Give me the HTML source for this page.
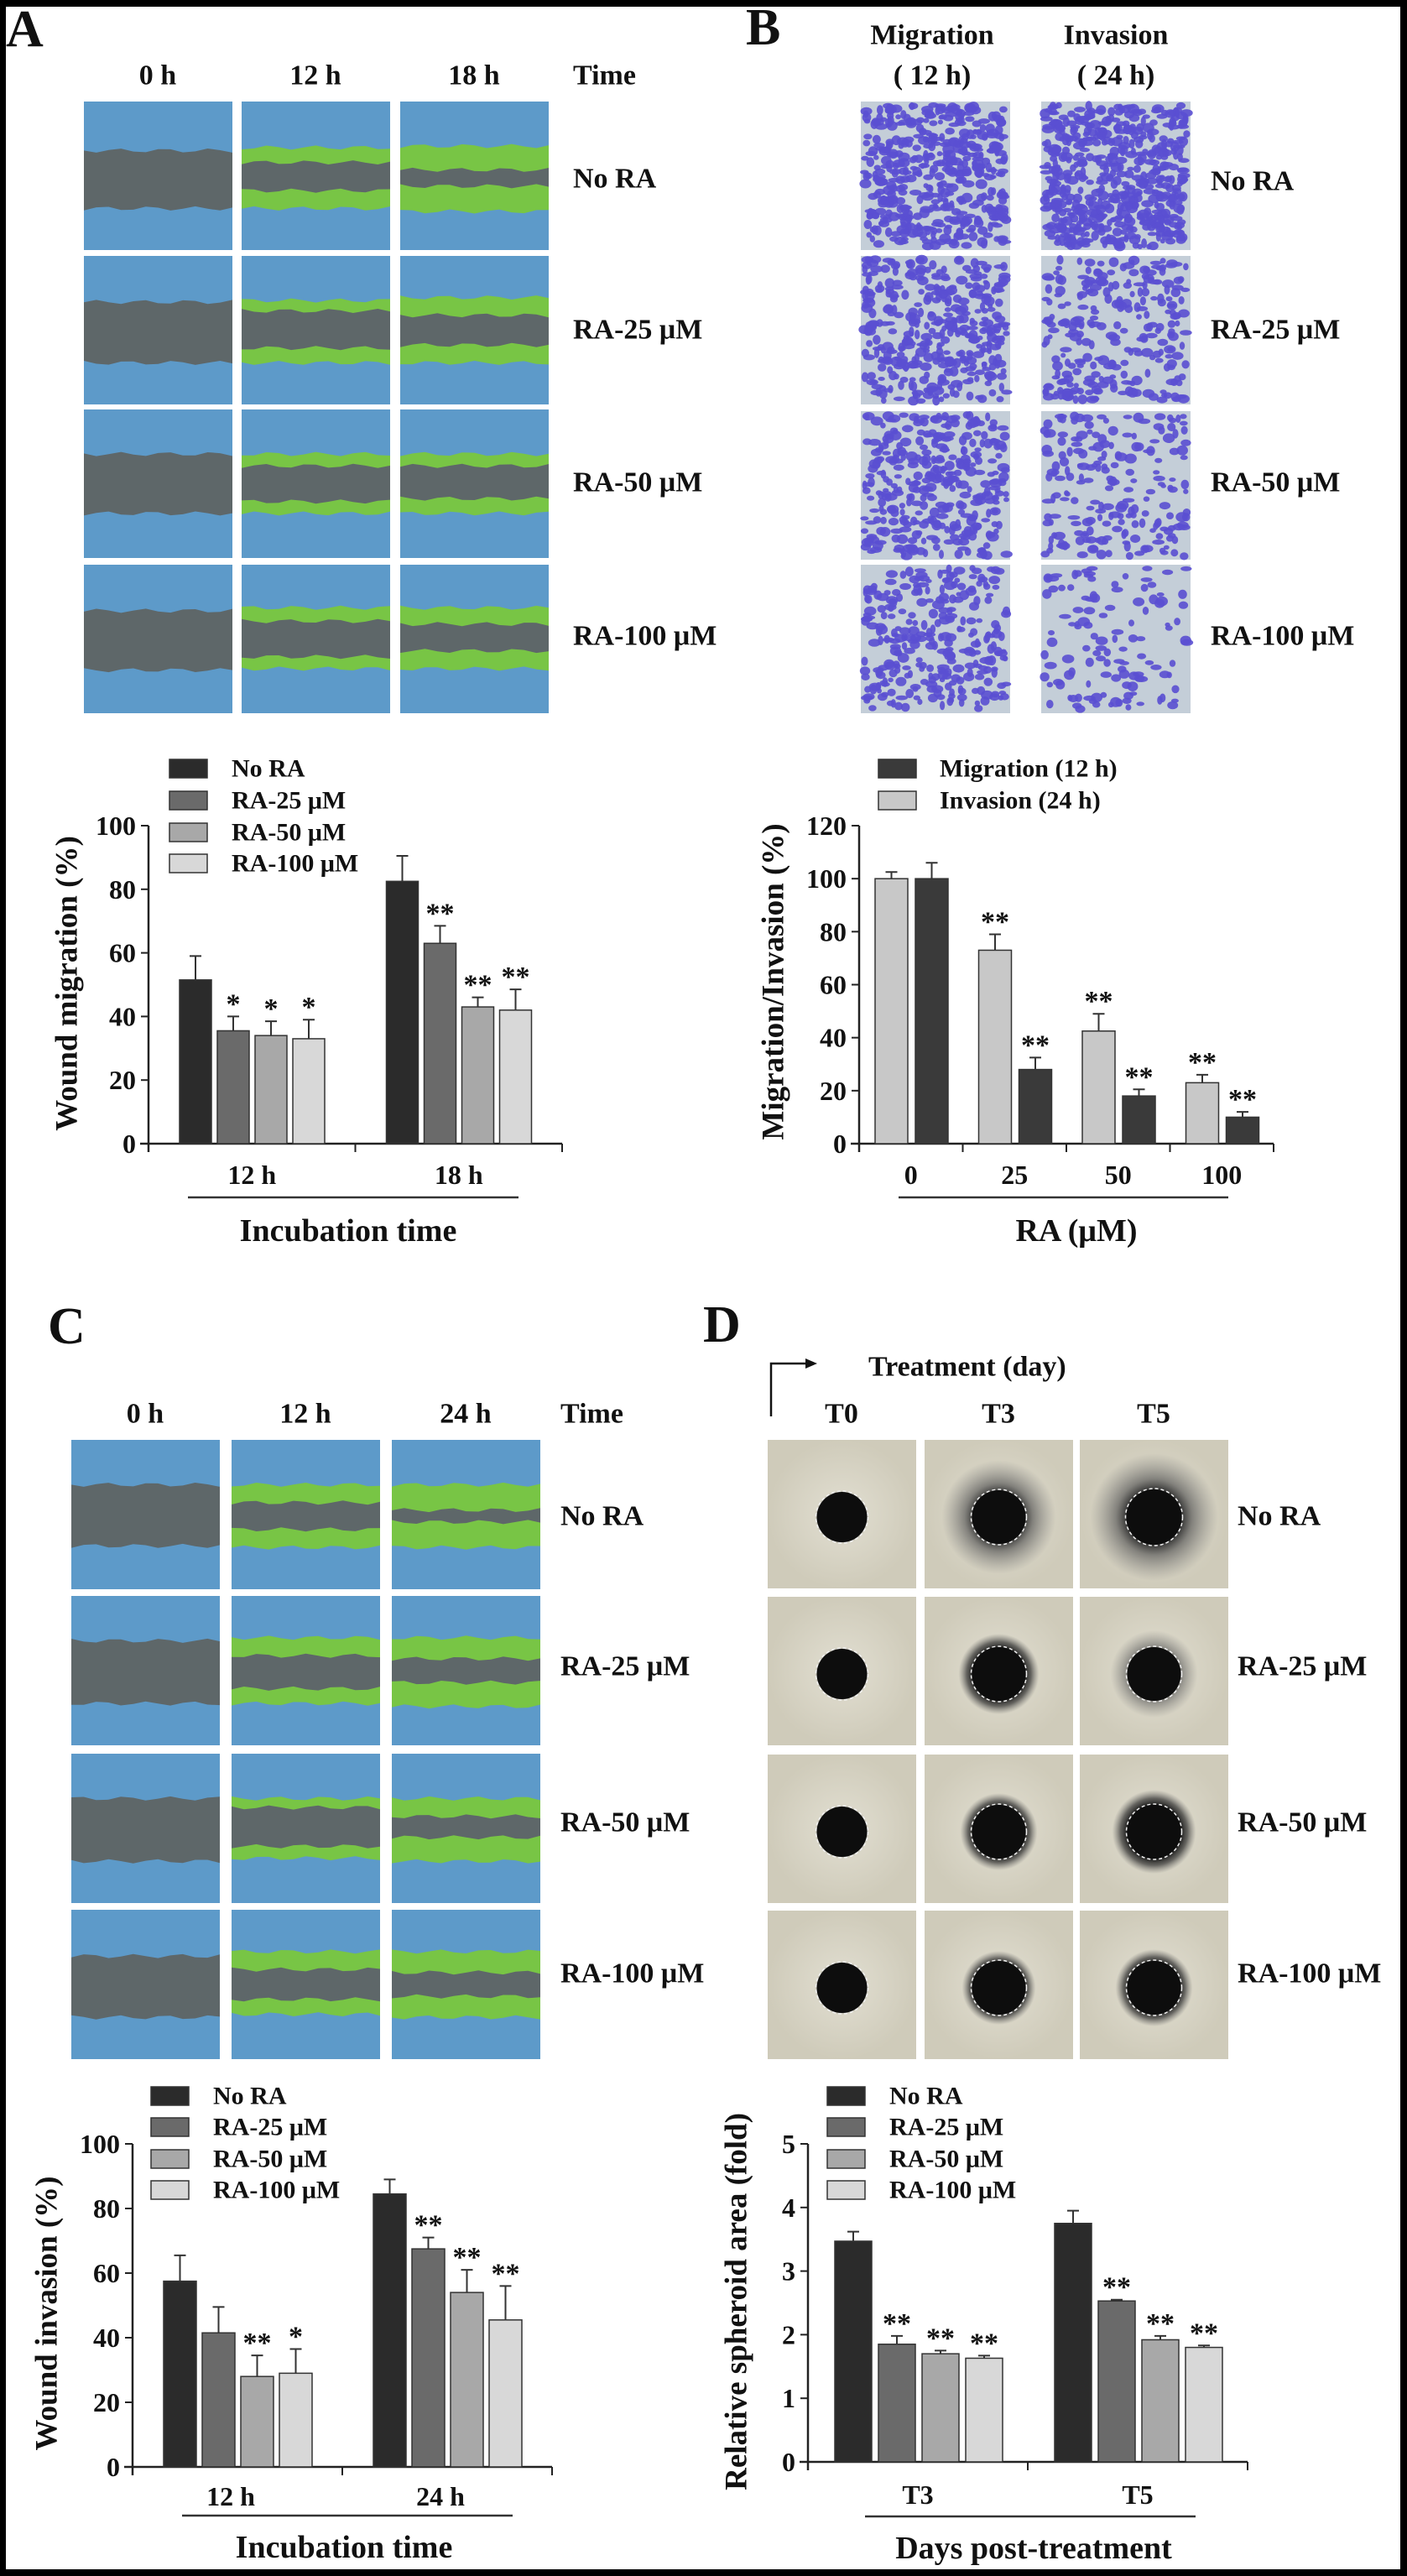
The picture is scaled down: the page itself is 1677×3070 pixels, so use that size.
<!DOCTYPE html>
<html><head><meta charset="utf-8">
<style>
html,body{margin:0;padding:0;background:#fff;}
svg{display:block;}
text{font-family:"Liberation Serif",serif;font-weight:bold;fill:#111;}
</style></head>
<body>
<svg id="fig" xmlns="http://www.w3.org/2000/svg" width="1677" height="3070" viewBox="0 0 1677 3070">
<defs>
<radialGradient id="haloBig"><stop offset="0.4" stop-color="#222"/><stop offset="0.6" stop-color="#555" stop-opacity="0.65"/><stop offset="1" stop-color="#777" stop-opacity="0"/></radialGradient>
<radialGradient id="haloSmall"><stop offset="0.62" stop-color="#111"/><stop offset="0.8" stop-color="#333" stop-opacity="0.7"/><stop offset="1" stop-color="#666" stop-opacity="0"/></radialGradient>
<radialGradient id="bgBeige"><stop offset="0" stop-color="#e2dfd2"/><stop offset="1" stop-color="#cfcbba"/></radialGradient>
</defs>
<rect x="0" y="0" width="1677" height="3070" fill="#000"/>
<rect x="7" y="8" width="1662" height="3054" fill="#fff"/>
<g id="root"></g>
</svg>
<script>
// ---------- Chart data ----------
// Panel A: wound migration
const aGroups = ['12 h', '18 h'];
const aNoRA = [51.5, 82.5];
const aRA25 = [35.5, 63];
const aRA50 = [34, 43];
const aRA100 = [33, 42];
const aNoRAErr = [7.5, 8];
const aRA25Err = [4.5, 5.5];
const aRA50Err = [4.5, 3];
const aRA100Err = [6, 6.5];
const aStars = [['', '*', '*', '*'], ['', '**', '**', '**']];
const aTicks = [0, 20, 40, 60, 80, 100];
// Panel B: migration/invasion
const bGroups = ['0', '25', '50', '100'];
const bInvasion = [100, 73, 42.5, 23];
const bMigration = [100, 28, 18, 10];
const bInvasionErr = [2.5, 6, 6.5, 3];
const bMigrationErr = [6, 4.5, 2.5, 2];
const bStarsInv = ['', '**', '**', '**'];
const bStarsMig = ['', '**', '**', '**'];
const bTicks = [0, 20, 40, 60, 80, 100, 120];
// Panel C: wound invasion
const cGroups = ['12 h', '24 h'];
const cNoRA = [57.5, 84.5];
const cRA25 = [41.5, 67.5];
const cRA50 = [28, 54];
const cRA100 = [29, 45.5];
const cNoRAErr = [8, 4.5];
const cRA25Err = [8, 3.5];
const cRA50Err = [6.5, 7];
const cRA100Err = [7.5, 10.5];
const cStars = [['', '', '**', '*'], ['', '**', '**', '**']];
const cTicks = [0, 20, 40, 60, 80, 100];
// Panel D: spheroid area
const dGroups = ['T3', 'T5'];
const dNoRA = [3.47, 3.75];
const dRA25 = [1.85, 2.53];
const dRA50 = [1.7, 1.92];
const dRA100 = [1.63, 1.8];
const dNoRAErr = [0.15, 0.2];
const dRA25Err = [0.13, 0.02];
const dRA50Err = [0.05, 0.06];
const dRA100Err = [0.04, 0.03];
const dStars = [['', '**', '**', '**'], ['', '**', '**', '**']];
const dTicks = [0, 1, 2, 3, 4, 5];

const seriesNames = ['No RA', 'RA-25 \u03bcM', 'RA-50 \u03bcM', 'RA-100 \u03bcM'];
const seriesColors = ['#2b2b2b', '#6a6a6a', '#a8a8a8', '#d8d8d8'];

const NS = 'http://www.w3.org/2000/svg';
const root = document.getElementById('root');
function el(tag, attrs, parent) {
  const e = document.createElementNS(NS, tag);
  for (const k in attrs) e.setAttribute(k, attrs[k]);
  (parent || root).appendChild(e);
  return e;
}
function txt(str, x, y, size, anchor, parent, name) {
  const t = el('text', {x: x, y: y, 'font-size': size, 'text-anchor': anchor || 'start', 'dominant-baseline': 'central'}, parent);
  t.textContent = str;
  
  
  return t;
}

// ---------- Bar chart ----------
function barChart(cfg) {
  const g = el('g', {});
  
  
  const yScale = v => cfg.y0 - (v / cfg.yMax) * (cfg.y0 - cfg.yTop);
  const nG = cfg.groups.length;
  const gw = (cfg.x1 - cfg.x0) / nG;
  const xBar = (gi, si) => cfg.x0 + gi * gw + cfg.offset + si * cfg.step;
  const ya = el('line', {x1: cfg.x0, y1: cfg.yTop, x2: cfg.x0, y2: cfg.y0 + 10, stroke: '#222', 'stroke-width': 2.5}, g);
  
  
  const xa = el('line', {x1: cfg.x0 - 10, y1: cfg.y0, x2: cfg.x1, y2: cfg.y0, stroke: '#222', 'stroke-width': 2.5}, g);
  
  
  for (let i = 1; i <= nG; i++) {
    const tx = cfg.x0 + i * gw;
    const tk = el('line', {x1: tx, y1: cfg.y0, x2: tx, y2: cfg.y0 + 10, stroke: '#222', 'stroke-width': 2}, g);
    
    
  }
  cfg.ticks.forEach(v => {
    const y = yScale(v);
    const tk = el('line', {x1: cfg.x0 - 9, y1: y, x2: cfg.x0, y2: y, stroke: '#222', 'stroke-width': 2}, g);
    
    
    txt(String(v), cfg.x0 - 15, y, 32, 'end', g, 'y-tick-label');
  });
  cfg.series.forEach((ser, si) => {
    ser.values.forEach((v, gi) => {
      const x = xBar(gi, si);
      const yTop = yScale(v);
      const r = el('rect', {x: x, y: yTop, width: cfg.bw, height: cfg.y0 - yTop, fill: ser.color, stroke: '#333', 'stroke-width': 1.5}, g);
      
      
      const eTop = yScale(v + ser.errs[gi]);
      const cx = x + cfg.bw / 2;
      const eb = el('path', {d: 'M' + cx + ' ' + yTop + 'V' + eTop + 'M' + (cx - 7) + ' ' + eTop + 'H' + (cx + 7), stroke: '#333', 'stroke-width': 2, fill: 'none'}, g);
      
      
      const s = ser.stars[gi];
      if (s) {
        const st = el('text', {x: cx, y: eTop - 4, 'font-size': 34, 'text-anchor': 'middle', fill: '#333'}, g);
        st.textContent = s;
        
        
      }
    });
  });
  cfg.groups.forEach((lab, gi) => {
    txt(lab, cfg.x0 + gi * gw + gw / 2 + (cfg.labShift || 0), cfg.labY, 32, 'middle', g, 'x-tick-label');
  });
  const ul = el('line', {x1: cfg.ulX0, y1: cfg.ulY, x2: cfg.ulX1, y2: cfg.ulY, stroke: '#333', 'stroke-width': 2.5}, g);
  
  
  txt(cfg.xTitle, cfg.xTitleX, cfg.xTitleY, 38, 'middle', g, 'x-axis-title');
  const yt = txt(cfg.yTitle, 0, 0, 37, 'middle', g, 'y-axis-title');
  yt.setAttribute('transform', 'translate(' + cfg.yTitleX + ',' + cfg.yTitleY + ') rotate(-90)');
  cfg.legend.forEach((lg, i) => {
    const ly = cfg.legY[i];
    const lr = el('rect', {x: cfg.legX, y: ly - 11, width: 45, height: 22, fill: lg.color, stroke: '#333', 'stroke-width': 1.5}, g);
    
    
    txt(lg.name, cfg.legTextX, ly, 30, 'start', g, 'legend-entry');
  });
}

function fourSeries(vals, errs, stars) {
  const keys = ['no-ra', 'ra25', 'ra50', 'ra100'];
  return vals.map((v, i) => ({key: keys[i], values: v, errs: errs[i], color: seriesColors[i], stars: stars.map(g => g[i])}));
}
const legend4 = seriesNames.map((n, i) => ({name: n, color: seriesColors[i]}));

barChart({name: 'chart-a-wound-migration', groups: aGroups,
  series: fourSeries([aNoRA, aRA25, aRA50, aRA100], [aNoRAErr, aRA25Err, aRA50Err, aRA100Err], aStars),
  x0: 177, x1: 670, y0: 1363, yTop: 984, yMax: 100, ticks: aTicks, offset: 37, step: 45, bw: 38,
  labY: 1400, ulX0: 224, ulX1: 618, ulY: 1427, xTitle: 'Incubation time', xTitleX: 415, xTitleY: 1467,
  yTitle: 'Wound migration (%)', yTitleX: 80, yTitleY: 1172,
  legend: legend4, legX: 202, legTextX: 276, legY: [916, 954, 992, 1029]});

barChart({name: 'chart-b-migration-invasion', groups: bGroups,
  series: [
    {key: 'invasion', values: bInvasion, errs: bInvasionErr, color: '#c8c8c8', stars: bStarsInv},
    {key: 'migration', values: bMigration, errs: bMigrationErr, color: '#3a3a3a', stars: bStarsMig}],
  x0: 1024, x1: 1518, y0: 1363, yTop: 984, yMax: 120, ticks: bTicks, offset: 19, step: 48, bw: 39,
  labY: 1400, ulX0: 1071, ulX1: 1464, ulY: 1427, xTitle: 'RA (\u03bcM)', xTitleX: 1283, xTitleY: 1467,
  yTitle: 'Migration/Invasion (%)', yTitleX: 922, yTitleY: 1170,
  legend: [{name: 'Migration (12 h)', color: '#3a3a3a'}, {name: 'Invasion (24 h)', color: '#c8c8c8'}],
  legX: 1047, legTextX: 1120, legY: [916, 954]});

barChart({name: 'chart-c-wound-invasion', groups: cGroups,
  series: fourSeries([cNoRA, cRA25, cRA50, cRA100], [cNoRAErr, cRA25Err, cRA50Err, cRA100Err], cStars),
  x0: 158, x1: 658, y0: 2940, yTop: 2555, yMax: 100, ticks: cTicks, offset: 37, step: 46, bw: 39,
  labY: 2975, labShift: -8, ulX0: 217, ulX1: 611, ulY: 2998, xTitle: 'Incubation time', xTitleX: 410, xTitleY: 3036,
  yTitle: 'Wound invasion (%)', yTitleX: 56, yTitleY: 2757,
  legend: legend4, legX: 180, legTextX: 254, legY: [2498, 2535, 2573, 2610]});

barChart({name: 'chart-d-spheroid-area', groups: dGroups,
  series: fourSeries([dNoRA, dRA25, dRA50, dRA100], [dNoRAErr, dRA25Err, dRA50Err, dRA100Err], dStars),
  x0: 963, x1: 1487, y0: 2934, yTop: 2555, yMax: 5, ticks: dTicks, offset: 32, step: 52, bw: 44,
  labY: 2973, labShift: 0, ulX0: 1031, ulX1: 1425, ulY: 2999, xTitle: 'Days post-treatment', xTitleX: 1232, xTitleY: 3037,
  yTitle: 'Relative spheroid area (fold)', yTitleX: 878, yTitleY: 2743,
  legend: legend4, legX: 986, legTextX: 1060, legY: [2498, 2535, 2573, 2610]});

// ---------- Micrograph panels (illustrative) ----------
function wavy(x, w, yFrac, h, y0, phase, amp) {
  const pts = [];
  for (let i = 0; i <= 12; i++) {
    const px = x + (w * i) / 12;
    const py = y0 + yFrac * h + Math.sin(i * 1.7 + phase) * amp;
    pts.push(px.toFixed(1) + ',' + py.toFixed(1));
  }
  return pts;
}
function band(g, x, y, w, h, f0, f1, color, ph) {
  const top = wavy(x, w, f0, h, y, ph, 2.5);
  const bot = wavy(x, w, f1, h, y, ph + 2, 2.5).reverse();
  const p = el('polygon', {points: top.concat(bot).join(' '), fill: color}, g);
  
  
}
function woundImg(x, y, w, h, spec, ph) {
  const g = el('g', {});
  
  
  el('rect', {x: x, y: y, width: w, height: h, fill: '#5d9ac9'}, g);
  if (spec.length === 2) {
    band(g, x, y, w, h, spec[0], spec[1], '#5e6769', ph);
  } else {
    band(g, x, y, w, h, spec[0], spec[3], '#78c545', ph);
    band(g, x, y, w, h, spec[1], spec[2], '#5e6769', ph + 1);
  }
}
const aCols = [100, 288, 477], aRows = [121, 305, 488, 673];
const aSpec = [
  [[.33, .72], [.31, .41, .60, .72], [.30, .46, .57, .74]],
  [[.31, .72], [.30, .37, .62, .72], [.28, .40, .60, .72]],
  [[.30, .70], [.30, .38, .62, .70], [.30, .38, .60, .70]],
  [[.31, .71], [.29, .38, .62, .70], [.29, .40, .58, .70]]];
aRows.forEach((ry, r) => aCols.forEach((cx, c) => woundImg(cx, ry, 177, 177, aSpec[r][c], r * 3 + c)));
const cCols = [85, 276, 467], cRows = [1716, 1902, 2090, 2276];
const cSpec = [
  [[.30, .71], [.30, .42, .60, .72], [.30, .47, .55, .72]],
  [[.30, .72], [.28, .40, .62, .72], [.28, .42, .58, .74]],
  [[.30, .72], [.30, .36, .62, .70], [.30, .42, .56, .72]],
  [[.31, .72], [.28, .40, .60, .70], [.28, .42, .58, .72]]];
cRows.forEach((ry, r) => cCols.forEach((cx, c) => woundImg(cx, ry, 177, 178, cSpec[r][c], r * 5 + c)));

let seed = 12345;
function rnd() { seed = (seed * 1103515245 + 12345) % 2147483648; return seed / 2147483648; }
function transwell(x, y, w, h, dens) {
  const g = el('g', {});
  
  
  el('rect', {x: x, y: y, width: w, height: h, fill: '#c4ced8'}, g);
  const n = Math.round(dens * 480);
  for (let i = 0; i < n; i++) {
    const cx = x + 4 + rnd() * (w - 8), cy = y + 4 + rnd() * (h - 8);
    el('ellipse', {cx: cx.toFixed(1), cy: cy.toFixed(1), rx: (3 + rnd() * 4.5).toFixed(1), ry: (2.5 + rnd() * 3.5).toFixed(1), fill: '#5a4fd2', opacity: 0.9}, g);
  }
}
const bCols = [1026, 1241], bRows = [121, 305, 490, 673];
const bDens = [[1.0, 1.15], [0.8, 0.55], [0.72, 0.42], [0.6, 0.25]];
bRows.forEach((ry, r) => bCols.forEach((cx, c) => transwell(cx, ry, 178, 177, bDens[r][c])));

function spheroid(x, y, w, h, core, halo) {
  const g = el('g', {});
  
  
  el('rect', {x: x, y: y, width: w, height: h, fill: 'url(#bgBeige)'}, g);
  const cx = x + w * 0.5, cy = y + h * 0.52;
  if (halo > core) el('circle', {cx: cx, cy: cy, r: halo, fill: halo > core * 1.6 ? 'url(#haloBig)' : 'url(#haloSmall)'}, g);
  el('circle', {cx: cx, cy: cy, r: core, fill: '#0d0d0d'}, g);
  el('circle', {cx: cx, cy: cy, r: core + 1, fill: 'none', stroke: '#f2f2f2', 'stroke-width': 1.5, 'stroke-dasharray': '4 3'}, g);
}
const dCols = [915, 1102, 1287], dRows = [1716, 1903, 2091, 2277];
const dCore = [[30, 32, 33], [30, 32, 32], [30, 32, 32], [30, 32, 32]];
const dHalo = [[32, 68, 76], [32, 48, 52], [32, 46, 50], [32, 44, 46]];
dRows.forEach((ry, r) => dCols.forEach((cx, c) => spheroid(cx, ry, 177, 177, dCore[r][c], dHalo[r][c])));

// ---------- Panel labels and headers ----------
const L = el('g', {});


function big(s, x, y, name) {
  const t = el('text', {x: x, y: y, 'font-size': 62}, L);
  t.textContent = s;
  
  
}
big('A', 7, 55, 'panel-letter-a');
big('B', 889, 53, 'panel-letter-b');
big('C', 57, 1601, 'panel-letter-c');
big('D', 838, 1599, 'panel-letter-d');

['0 h', '12 h', '18 h'].forEach((s, i) => txt(s, aCols[i] + 88, 90, 34, 'middle', L, 'column-header'));
txt('Time', 683, 90, 34, 'start', L, 'column-header');
const rowLab = ['No RA', 'RA-25 \u03bcM', 'RA-50 \u03bcM', 'RA-100 \u03bcM'];
[213, 393, 575, 758].forEach((y, i) => txt(rowLab[i], 683, y, 34, 'start', L, 'row-label'));

txt('Migration', 1111, 42, 34, 'middle', L, 'column-header');
txt('( 12 h)', 1111, 90, 34, 'middle', L, 'column-header');
txt('Invasion', 1330, 42, 34, 'middle', L, 'column-header');
txt('( 24 h)', 1330, 90, 34, 'middle', L, 'column-header');
[216, 393, 575, 758].forEach((y, i) => txt(rowLab[i], 1443, y, 34, 'start', L, 'row-label'));

['0 h', '12 h', '24 h'].forEach((s, i) => txt(s, cCols[i] + 88, 1685, 34, 'middle', L, 'column-header'));
txt('Time', 668, 1685, 34, 'start', L, 'column-header');
[1807, 1986, 2172, 2352].forEach((y, i) => txt(rowLab[i], 668, y, 34, 'start', L, 'row-label'));

['T0', 'T3', 'T5'].forEach((s, i) => txt(s, dCols[i] + 88, 1685, 34, 'middle', L, 'column-header'));
txt('Treatment (day)', 1035, 1629, 34, 'start', L, 'treatment-header');
const arr = el('path', {d: 'M919 1688 V1625 H962', stroke: '#111', 'stroke-width': 2.5, fill: 'none'}, L);


const ah = el('polygon', {points: '974,1625 960,1619 960,1631', fill: '#111'}, L);


[1807, 1986, 2172, 2352].forEach((y, i) => txt(rowLab[i], 1475, y, 34, 'start', L, 'row-label'));
</script>
</body></html>
